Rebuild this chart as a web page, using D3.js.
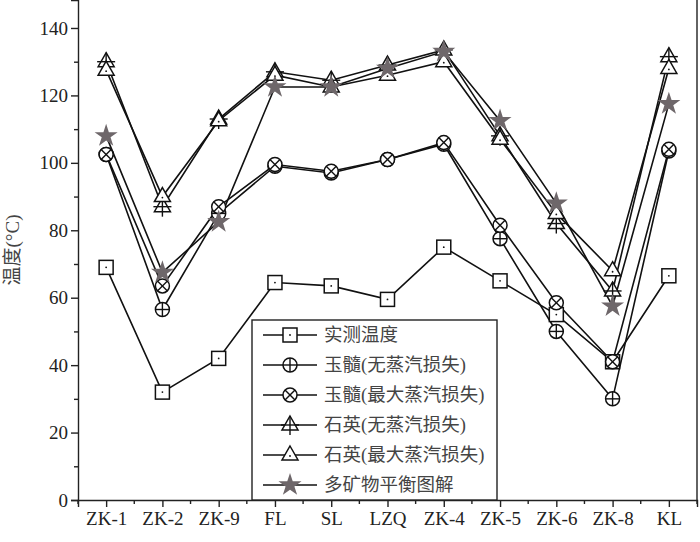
<!DOCTYPE html>
<html>
<head>
<meta charset="utf-8">
<script src="https://cdn.jsdelivr.net/npm/d3@7"></script>
<style>
body{margin:0;background:#fff}
text{font-family:"Liberation Serif","Times New Roman",serif}
.cjk{font-family:"Liberation Serif","Noto Sans CJK SC",serif}
</style>
</head>
<body>
<div id="chart"></div>
<script>
var sites = ["ZK-1","ZK-2","ZK-9","FL","SL","LZQ","ZK-4","ZK-5","ZK-6","ZK-8","KL"]
var measured   = [69, 32, 42, 64.5, 63.5, 59.5, 75, 65, 55, 41, 66.5]
var chalcNo    = [102.5, 56.5, 85, 99, 97, 101, 105.5, 77.5, 50, 30, 103.5]
var chalcMax   = [102.5, 63.5, 87, 99.5, 97.5, 101, 106, 81.5, 58.5, 41, 104]
var quartzNo   = [130, 87, 113, 127, 124.5, 129, 133.5, 108, 82, 62, 131.5]
var quartzMax  = [127.5, 90, 112.5, 126, 122.5, 126, 130, 107, 85, 68, 128]
var multiMin   = [108, 67.5, 82.5, 122.5, 122.5, 128, 133, 112.5, 88, 57.5, 117.5]
var names = ["实测温度","玉髓(无蒸汽损失)","玉髓(最大蒸汽损失)","石英(无蒸汽损失)","石英(最大蒸汽损失)","多矿物平衡图解"]
var yTicks = [0,20,40,60,80,100,120,140]

var width = 700, height = 542
var left = 78, right = 697, bottom = 500

var svg = d3.select("#chart").append("svg")
  .attr("width", width).attr("height", height)

var x = d3.scalePoint().domain(sites).range([left, right]).padding(0.5)
var y = d3.scaleLinear().domain([0, 148.3]).range([bottom, 0])

// axes
var yAxis = svg.append("g").attr("transform","translate(" + left + ",0)")
yAxis.call(d3.axisLeft(y).tickValues(d3.range(10,141,20)).tickSize(4).tickFormat(""))
yAxis.call(function(g){ g.select(".domain").remove() })
var yMaj = svg.append("g").attr("transform","translate(" + left + ",0)")
  .call(d3.axisLeft(y).tickValues(yTicks).tickSize(7).tickPadding(3))
yMaj.selectAll("text").style("font-size","19px").attr("fill","#222")
yMaj.selectAll("line,path").attr("stroke","#222").attr("stroke-width",1.4)
yAxis.selectAll("line").attr("stroke","#222").attr("stroke-width",1.4)

var mids = d3.range(sites.length + 1).map(function(i){ return left + (right-left)/sites.length*i })
svg.append("g").selectAll("line").data(mids).join("line")
  .attr("x1",function(d){return d}).attr("x2",function(d){return d})
  .attr("y1",bottom).attr("y2",bottom+4).attr("stroke","#222").attr("stroke-width",1.4)
var xAx = svg.append("g").attr("transform","translate(0," + bottom + ")")
  .call(d3.axisBottom(x).tickSize(7).tickPadding(5))
xAx.selectAll("text").style("font-size","19px").attr("fill","#222")
xAx.selectAll("line,path").attr("stroke","#222").attr("stroke-width",1.4)

svg.append("line").attr("x1",right).attr("x2",right).attr("y1",0).attr("y2",bottom)
  .attr("stroke","#222").attr("stroke-width",1.4)

svg.append("text").attr("class","cjk")
  .attr("transform","translate(19,250) rotate(-90)")
  .attr("text-anchor","middle").style("font-size","19px").attr("fill","#444")
  .text("温度(°C)")

// marker drawers
function marker(g, kind){
  if (kind == 0){
    g.append("rect").attr("x",-7).attr("y",-7).attr("width",14).attr("height",14)
      .attr("fill","#fff").attr("stroke","#111").attr("stroke-width",1.5)
    g.append("circle").attr("r",0.9).attr("fill","#111")
  } else if (kind == 1 || kind == 2){
    g.append("circle").attr("r",7).attr("fill","#fff").attr("stroke","#111").attr("stroke-width",1.5)
    var p = kind == 1 ? [[-7,0,7,0],[0,-7,0,7]] : [[-5,-5,5,5],[-5,5,5,-5]]
    p.forEach(function(l){
      g.append("line").attr("x1",l[0]).attr("y1",l[1]).attr("x2",l[2]).attr("y2",l[3])
        .attr("stroke","#111").attr("stroke-width",1.4)
    })
  } else if (kind == 3 || kind == 4){
    g.append("path").attr("d","M0,-9L8,5L-8,5Z")
      .attr("fill","#fff").attr("stroke","#111").attr("stroke-width",1.5)
    if (kind == 3){
      g.append("line").attr("x1",0).attr("x2",0).attr("y1",-9).attr("y2",10).attr("stroke","#111").attr("stroke-width",1.4)
      g.append("line").attr("x1",-9).attr("x2",9).attr("y1",0).attr("y2",0).attr("stroke","#111").attr("stroke-width",1.4)
    } else {
      g.append("circle").attr("r",0.9).attr("cy",1).attr("fill","#111")
    }
  } else {
    var star = d3.symbol().type(d3.symbolStar).size(165)
    g.append("path").attr("d",star()).attr("fill","#6e676a")
  }
}

var series = [measured, chalcNo, chalcMax, quartzNo, quartzMax, multiMin]
var line = d3.line().x(function(d,i){return x(sites[i])}).y(function(d){return y(d)})

series.forEach(function(s){
  svg.append("path").datum(s).attr("d",line)
    .attr("fill","none").attr("stroke","#111").attr("stroke-width",1.6)
})
series.forEach(function(s,k){
  s.forEach(function(v,i){
    var g = svg.append("g").attr("transform","translate(" + x(sites[i]) + "," + y(v) + ")")
    marker(g,k)
  })
})

// legend
var lg = svg.append("g")
lg.append("rect").attr("x",252).attr("y",320).attr("width",245).attr("height",180)
  .attr("fill","#fff").attr("stroke","#222").attr("stroke-width",1.4)
names.forEach(function(n,k){
  var cy = 335 + k*30
  lg.append("line").attr("x1",263).attr("x2",317).attr("y1",cy).attr("y2",cy)
    .attr("stroke","#111").attr("stroke-width",1.6)
  marker(lg.append("g").attr("transform","translate(290," + cy + ")"), k)
  lg.append("text").attr("class","cjk").attr("x",324).attr("y",cy+6)
    .style("font-size","18.5px").attr("fill","#444").text(n)
})
</script>
</body>
</html>
